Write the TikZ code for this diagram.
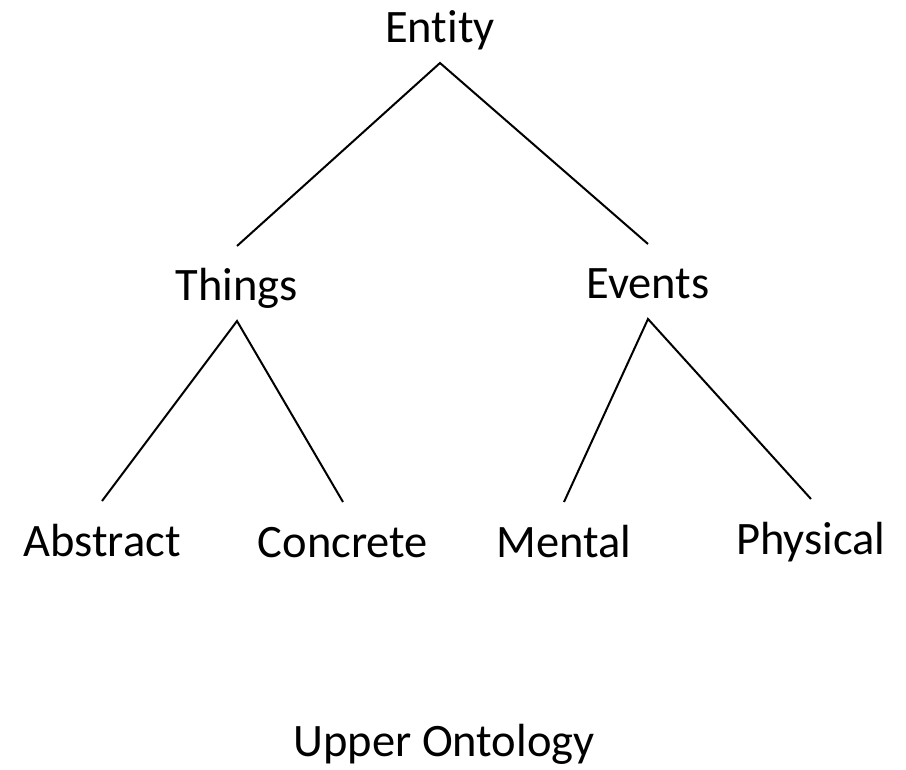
\documentclass[tikz,border=0pt]{standalone}
\usepackage{fontspec}
\setmainfont{Carlito}[Ligatures=NoCommon]
\usepackage{tikz}

\begin{document}
\begin{tikzpicture}[x=1pt,y=-1pt,
    term/.style={anchor=base,inner sep=0pt,outer sep=0pt,
      text height=55pt,text depth=20pt,font=\fontsize{46.5pt}{55pt}\selectfont},
    link/.style={line width=2pt}]
  \useasboundingbox (0,0) rectangle (906,770);
  \node[term] (entity) at (440,43) {Entity};
  \node[term] (things) at (237,301) {Things};
  \node[term] (events) at (648,299) {Events};
  \node[term] (abstract) at (102,556) {Abstract};
  \node[term] (concrete) at (343,557) {Concrete};
  \node[term] (mental) at (564,557) {Mental};
  \node[term] (physical) at (811,554) {Physical};
  \node[term] (upper) at (444,756) {Upper Ontology};
  \draw[link] (things.north) -- (entity.south) -- (events.north);
  \draw[link] (abstract.north) -- (things.south) -- (concrete.north);
  \draw[link] (mental.north) -- (events.south) -- (physical.north);
\end{tikzpicture}
\end{document}
